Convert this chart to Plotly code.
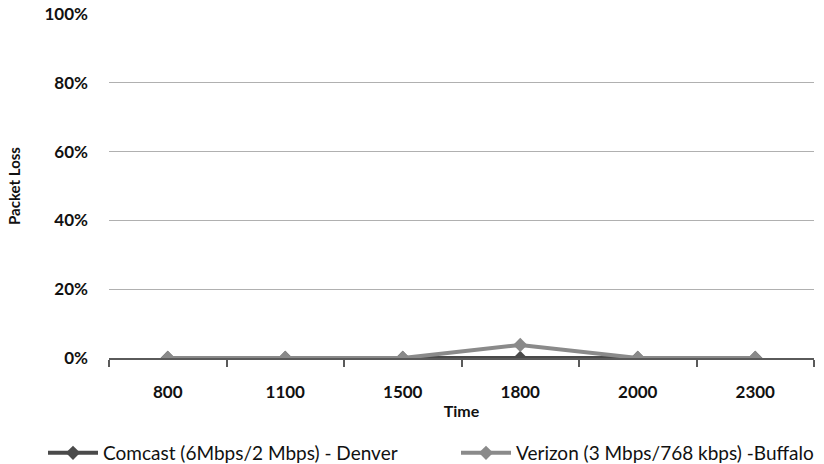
import plotly.graph_objects as go

times = ["800", "1100", "1500", "1800", "2000", "2300"]
comcast = [0.0, 0.0, 0.0, 0.0, 0.0, 0.0]
verizon = [0.0, 0.0, 0.0, 0.038, 0.0, 0.0]
y_ticks = [0, 0.2, 0.4, 0.6, 0.8, 1.0]

fig = go.Figure()
fig.add_trace(go.Scatter(
    x=times, y=comcast, mode="lines+markers",
    name="Comcast (6Mbps/2 Mbps) - Denver",
    line=dict(color="#4a4a4a", width=4),
    marker=dict(symbol="diamond", size=11, color="#4a4a4a"),
    legend="legend",
))
fig.add_trace(go.Scatter(
    x=times, y=verizon, mode="lines+markers",
    name="Verizon (3 Mbps/768 kbps) -Buffalo",
    line=dict(color="#8a8a8a", width=4),
    marker=dict(symbol="diamond", size=11, color="#8a8a8a"),
    legend="legend2",
))

font_family = "Lato, Liberation Sans, Arial, sans-serif"
leg_common = dict(
    orientation="h", xref="container", yref="container",
    xanchor="left", yanchor="middle",
    font=dict(size=19, color="#111111", family=font_family),
    itemwidth=50, bgcolor="rgba(0,0,0,0)",
)
fig.update_layout(
    width=824, height=464,
    margin=dict(l=109, r=10, t=14, b=106, autoexpand=False),
    paper_bgcolor="white", plot_bgcolor="white",
    font=dict(family=font_family, color="#222222"),
    showlegend=True,
    legend=dict(x=43 / 824, y=1 - 453 / 464, **leg_common),
    legend2=dict(x=456 / 824, y=1 - 453 / 464, **leg_common),
    xaxis=dict(
        type="category", range=[-0.5, 5.5],
        showline=True, linecolor="#5a5a5a", linewidth=2,
        ticks="outside", tickson="boundaries", ticklen=7, tickcolor="#5a5a5a", tickwidth=2,
        showgrid=False,
        tickfont=dict(size=17, family=font_family, color="#111111", weight="bold"),
        ticklabelstandoff=18,
        title=dict(text="<b>Time</b>", font=dict(size=16, color="#111111"), standoff=4),
    ),
    yaxis=dict(
        range=[0, 1.0], tickvals=y_ticks, tickformat=".0%",
        showgrid=True, gridcolor="#b0b0b0", gridwidth=1,
        zeroline=False, showline=False,
        tickfont=dict(size=17, family=font_family, color="#111111", weight="bold"),
        ticklabelstandoff=20,
        title=dict(text="<b>Packet Loss</b>", font=dict(size=15, color="#111111"), standoff=20),
    ),
)

fig.write_html("out.html")
